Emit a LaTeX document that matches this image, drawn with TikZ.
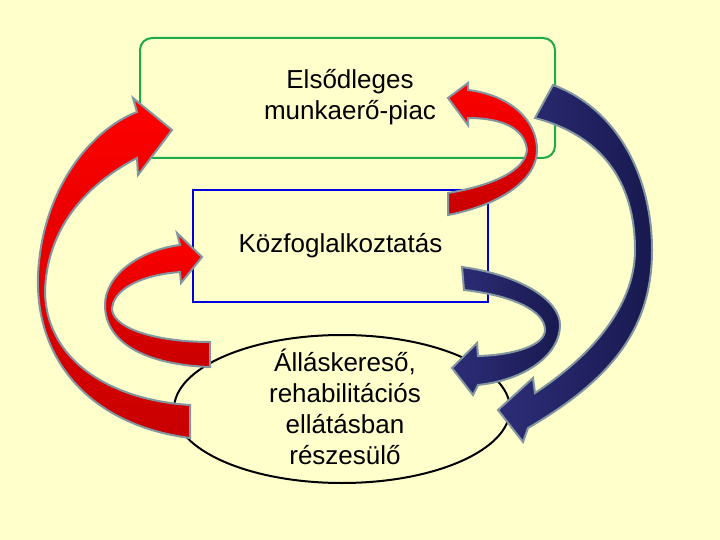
\documentclass[tikz,border=0pt]{standalone}
\usepackage{fontspec}
\setmainfont{Liberation Sans}
\usetikzlibrary{shapes.geometric}
\begin{document}
\begin{tikzpicture}[x=1pt,y=-1pt,
  lbl/.style={font=\fontsize{26}{31}\selectfont,align=center},
  redarr/.style={draw={rgb,255:red,130;green,150;blue,160},line width=2pt,top color={rgb,255:red,255;green,0;blue,0},bottom color={rgb,255:red,200;green,0;blue,0}},
  bluearr/.style={draw={rgb,255:red,130;green,150;blue,160},line width=2pt,left color={rgb,255:red,45;green,45;blue,120},right color={rgb,255:red,25;green,25;blue,80}}]
\fill[fill={rgb,255:red,255;green,255;blue,204}] (0,0) rectangle (720,540);
\useasboundingbox (0,0) rectangle (720,540);
\node[draw={rgb,255:red,30;green,170;blue,70},line width=2pt,rounded corners=12pt,minimum width=415pt,minimum height=120pt] (prim) at (347.5,98) {};
\node[lbl] (primt) at (350,97) {Elsődleges\\munkaerő-piac};
\node[draw={rgb,255:red,0;green,0;blue,220},line width=2.5pt,minimum width=295pt,minimum height=112pt,lbl] (kozf) at (340.5,246) {Közfoglalkoztatás};
\node[draw=black,line width=2pt,ellipse,minimum width=336pt,minimum height=148pt,inner sep=0pt] (job) at (342,409) {};
\node[lbl] (jobt) at (345,407) {Álláskereső,\\rehabilitációs\\ellátásban\\részesülő};
% big left red
\path[redarr] (190,438) .. controls (90,425) and (35,360) .. (38,275) .. controls (42,190) and (90,130) .. (137,112)
  -- (133,98) -- (172,130) -- (138,175) -- (137,158)
  .. controls (95,180) and (48,220) .. (45,290) .. controls (45,360) and (110,400) .. (190,405) -- cycle;
% small left red
\path[redarr] (210,367) .. controls (150,365) and (105,345) .. (105,305) .. controls (105,275) and (140,250) .. (180,245)
  -- (177,233) -- (202,257) -- (181,283) -- (180,272)
  .. controls (140,275) and (112,290) .. (112,310) .. controls (115,330) and (160,342) .. (210,342) -- cycle;
% right top red
\path[redarr] (448,215) .. controls (500,205) and (537,180) .. (537,150) .. controls (537,120) and (510,95) .. (468,90)
  -- (468,83) -- (448,98) -- (468,125) -- (468,118)
  .. controls (505,118) and (525,130) .. (527,150) .. controls (525,170) and (495,185) .. (448,193) -- cycle;
% big blue
\path[bluearr] (553,85) .. controls (620,110) and (652,180) .. (652,250) .. controls (652,330) and (610,380) .. (528,428)
  -- (523,442) -- (498,410) -- (533,378) -- (535,393)
  .. controls (600,350) and (635,300) .. (635,250) .. controls (635,180) and (600,135) .. (535,118) -- cycle;
% small blue
\path[bluearr] (462,267) .. controls (520,275) and (560,300) .. (560,325) .. controls (560,355) and (525,380) .. (478,385)
  -- (473,395) -- (452,368) -- (477,343) -- (478,356)
  .. controls (515,355) and (545,345) .. (545,330) .. controls (545,310) and (510,295) .. (464,290) -- cycle;
\end{tikzpicture}
\end{document}
